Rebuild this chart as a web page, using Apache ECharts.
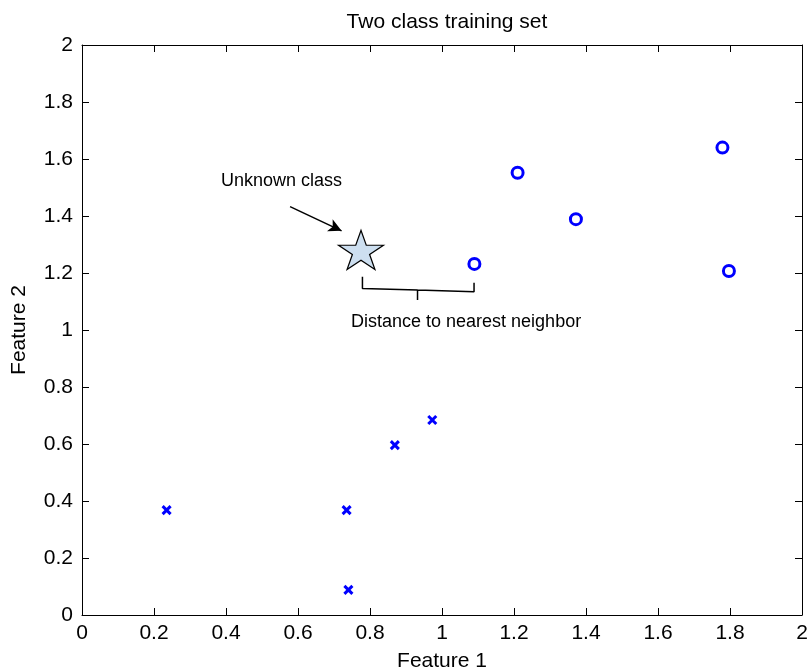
<!DOCTYPE html>
<html>
<head>
<meta charset="utf-8">
<script src="https://cdn.jsdelivr.net/npm/echarts@6/dist/echarts.min.js"></script>
<style>
  html, body { margin: 0; padding: 0; background: #fff; }
  #chart { width: 812px; height: 672px; }
</style>
</head>
<body>
<div id="chart"></div>
<script>
// Class "o" training points: [Feature 1, Feature 2]
const classCircle = [
  [1.210, 1.552],
  [1.372, 1.389],
  [1.090, 1.232],
  [1.779, 1.640],
  [1.797, 1.207]
];

// Class "x" training points
const classCross = [
  [0.235, 0.368],
  [0.735, 0.368],
  [0.740, 0.088],
  [0.869, 0.596],
  [0.973, 0.684]
];

// Query sample of unknown class
const unknownPoint = [[0.775, 1.281]];

// Pointer from the "Unknown class" note to the query sample
const arrowLine = [[0.578, 1.433], [0.721, 1.348]];

// Brace spanning query sample -> nearest neighbour
const braceLine = [
  [0.779, 1.187], [0.779, 1.146], [0.932, 1.140], [0.932, 1.105],
  [0.932, 1.140], [1.089, 1.134], [1.089, 1.166]
];

const xTicks = { min: 0, max: 2, step: 0.2 };
const yTicks = { min: 0, max: 2, step: 0.2 };

const FONT = 'Liberation Sans, Arial, sans-serif';
const starPath = 'path://M50,0 L61.23,34.55 L97.55,34.55 L68.17,55.9 L79.39,90.45 L50,69.1 L20.61,90.45 L31.83,55.9 L2.45,34.55 L38.77,34.55 Z';
const crossPath = 'path://M0,0 L10,10 M10,0 L0,10';

const chart = echarts.init(document.getElementById('chart'), null, { renderer: 'canvas' });

const tickStyle = { inside: true, length: 7, lineStyle: { color: '#000', width: 1 } };
const lineStyle = { show: true, onZero: false, lineStyle: { color: '#000', width: 1 } };

chart.setOption({
  animation: false,
  backgroundColor: '#fff',
  title: {
    text: 'Two class training set',
    left: 442, top: 7, textAlign: 'center',
    textStyle: { fontFamily: FONT, fontSize: 21, fontWeight: 'normal', color: '#000' }
  },
  grid: {
    left: 82, right: 10, top: 45, bottom: 57,
    containLabel: false, outerBoundsMode: 'none'
  },
  xAxis: [
    {
      type: 'value', position: 'bottom',
      min: xTicks.min, max: xTicks.max, interval: xTicks.step,
      name: 'Feature 1', nameLocation: 'middle', nameGap: 36,
      nameTextStyle: { fontFamily: FONT, fontSize: 21, color: '#000' },
      axisLine: lineStyle, axisTick: tickStyle,
      axisLabel: { margin: 8, fontFamily: FONT, fontSize: 21, color: '#000' },
      splitLine: { show: false }
    },
    {
      type: 'value', position: 'top',
      min: xTicks.min, max: xTicks.max, interval: xTicks.step,
      axisLine: lineStyle, axisTick: tickStyle,
      axisLabel: { show: false }, splitLine: { show: false }
    }
  ],
  yAxis: [
    {
      type: 'value', position: 'left',
      min: yTicks.min, max: yTicks.max, interval: yTicks.step,
      name: 'Feature 2', nameLocation: 'middle', nameGap: 52, nameRotate: 90,
      nameTextStyle: { fontFamily: FONT, fontSize: 21, color: '#000' },
      axisLine: lineStyle, axisTick: tickStyle,
      axisLabel: { margin: 9, fontFamily: FONT, fontSize: 21, color: '#000' },
      splitLine: { show: false }
    },
    {
      type: 'value', position: 'right',
      min: yTicks.min, max: yTicks.max, interval: yTicks.step,
      axisLine: lineStyle, axisTick: tickStyle,
      axisLabel: { show: false }, splitLine: { show: false }
    }
  ],
  series: [
    {
      name: 'class o', type: 'scatter', data: classCircle,
      symbol: 'circle', symbolSize: 11,
      itemStyle: { color: '#fff', borderColor: '#0000ff', borderWidth: 3, opacity: 1 }
    },
    {
      name: 'class x', type: 'scatter', data: classCross,
      symbol: crossPath, symbolSize: 8,
      itemStyle: { color: 'rgba(0,0,0,0)', borderColor: '#0000ff', borderWidth: 3, opacity: 1 }
    },
    {
      name: 'brace', type: 'line', data: braceLine,
      symbol: 'none', silent: true,
      lineStyle: { color: '#000', width: 1.5 },
      markLine: {
        silent: true,
        symbol: ['none', 'arrow'], symbolSize: [10, 13],
        label: { show: false },
        lineStyle: { color: '#000', width: 1.5, type: 'solid' },
        emphasis: { disabled: true },
        data: [[{ coord: arrowLine[0] }, { coord: arrowLine[1] }]]
      }
    },
    {
      name: 'unknown', type: 'scatter', data: unknownPoint,
      symbol: starPath, symbolSize: [45, 39], z: 5,
      itemStyle: { color: '#cddff0', borderColor: '#000', borderWidth: 1.2, opacity: 1 }
    }
  ],
  graphic: [
    {
      type: 'text', left: 221, top: 172,
      style: { text: 'Unknown class', font: '18px ' + FONT, fill: '#000' }
    },
    {
      type: 'text', left: 351, top: 313,
      style: { text: 'Distance to nearest neighbor', font: '18px ' + FONT, fill: '#000' }
    }
  ]
});
</script>
</body>
</html>
